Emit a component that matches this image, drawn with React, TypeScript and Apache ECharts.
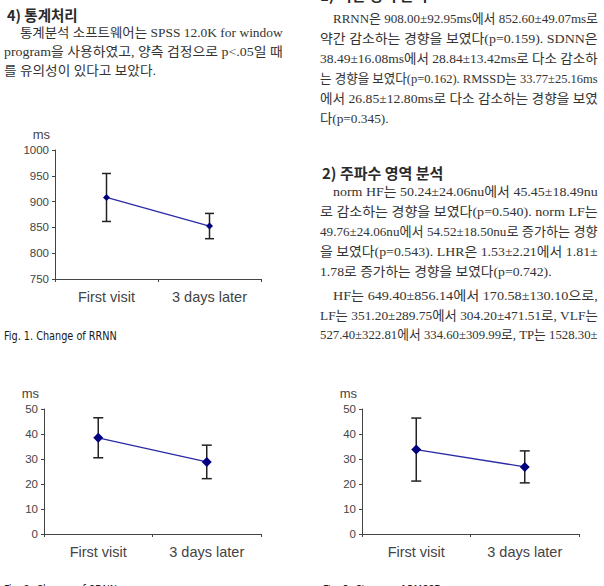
import React, { useEffect, useRef } from 'react';
import * as echarts from 'echarts';

// ---------- data ----------
const categories = ['First visit', '3 days later'];

const rrnnMean = [908.0, 852.6];
const rrnnErr = [46.5, 24.5];
const rrnnAxis = { min: 750, max: 1000, interval: 50 };

const sdnnMean = [38.49, 28.84];
const sdnnErr = [8.0, 6.7];
const sdnnAxis = { min: 0, max: 50, interval: 10 };

const rmssdMean = [33.77, 26.85];
const rmssdErr = [12.6, 6.4];
const rmssdAxis = { min: 0, max: 50, interval: 10 };

const yUnit = 'ms';
const captions = ['Fig. 1. Change of RRNN', 'Fig. 2. Change of SDNN', 'Fig. 3. Change of RMSSD'];

const leftHeading = '4) 통계처리';
const leftPara = [
  '통계분석 소프트웨어는 SPSS 12.0K for window',
  'program을 사용하였고, 양측 검정으로 p<.05일 때',
  '를 유의성이 있다고 보았다.',
];

const rightTopHeading = '1) 시간 영역 분석';
const rightPara1 = [
  'RRNN은 908.00±92.95ms에서 852.60±49.07ms로',
  '약간 감소하는 경향을 보였다(p=0.159). SDNN은',
  '38.49±16.08ms에서 28.84±13.42ms로 다소 감소하',
  '는 경향을 보였다(p=0.162). RMSSD는 33.77±25.16ms',
  '에서 26.85±12.80ms로 다소 감소하는 경향을 보였',
  '다(p=0.345).',
];
const rightHeading2 = '2) 주파수 영역 분석';
const rightPara2 = [
  'norm HF는 50.24±24.06nu에서 45.45±18.49nu',
  '로 감소하는 경향을 보였다(p=0.540). norm LF는',
  '49.76±24.06nu에서 54.52±18.50nu로 증가하는 경향',
  '을 보였다(p=0.543). LHR은 1.53±2.21에서 1.81±',
  '1.78로 증가하는 경향을 보였다(p=0.742).',
];
const rightPara3 = [
  'HF는 649.40±856.14에서 170.58±130.10으로,',
  'LF는 351.20±289.75에서 304.20±471.51로, VLF는',
  '527.40±322.81에서 334.60±309.99로, TP는 1528.30±',
];

// ---------- styles ----------
const BODY_FONT = "'Liberation Serif', 'Noto Sans CJK KR', serif";
const HEAD_FONT = "'Noto Sans CJK KR', 'Noto Sans', sans-serif";
const CHART_FONT = "'Liberation Sans', 'Noto Sans CJK KR', sans-serif";
const CAP_FONT = "'Liberation Sans Narrow', 'DejaVu Sans Condensed', 'Liberation Sans', sans-serif";

const grids = [
  { left: 55, top: 150, width: 206, height: 129 },
  { left: 44, top: 409, width: 217, height: 125 },
  { left: 362, top: 409, width: 217, height: 125 },
];

const chartSets = [
  { mean: rrnnMean, err: rrnnErr, axis: rrnnAxis, sym: 7, cap: 9 },
  { mean: sdnnMean, err: sdnnErr, axis: sdnnAxis, sym: 10, cap: 10 },
  { mean: rmssdMean, err: rmssdErr, axis: rmssdAxis, sym: 10, cap: 10 },
];

let measureCtx: CanvasRenderingContext2D | null = null;
function measure(text: string, fontStr: string) {
  if (!measureCtx) measureCtx = document.createElement('canvas').getContext('2d');
  if (!measureCtx) return text.length * 7;
  measureCtx.font = fontStr;
  return measureCtx.measureText(text).width;
}

function textEl(text: string, x: number, y: number, font: string, size: number, color: string, weight: any = 'normal', scaleX = 1) {
  return {
    type: 'text',
    x,
    y,
    scaleX,
    silent: true,
    style: {
      text,
      fill: color,
      font: `${weight} ${size}px ${font}`,
      textAlign: 'left',
      textVerticalAlign: 'middle',
    },
  };
}

// Justified paragraph: every line except (optionally) the last one spans to `right`.
function paragraph(
  lines: string[], firstX: number, restX: number, right: number,
  y0: number, step: number, lastIsEnd: boolean, out: any[],
) {
  const size = 13;
  const fontStr = `normal ${size}px ${BODY_FONT}`;
  const scales: number[] = [];
  lines.forEach((l, k) => {
    const x = k === 0 ? firstX : restX;
    const w = measure(l, fontStr);
    scales.push((right - x) / w);
  });
  const justified = lines.length > 1 && lastIsEnd ? scales.slice(0, -1) : scales;
  const avg = justified.reduce((a, b) => a + b, 0) / justified.length;
  lines.forEach((l, k) => {
    const x = k === 0 ? firstX : restX;
    const isLast = k === lines.length - 1 && lastIsEnd;
    const s = isLast ? Math.min(avg, scales[k]) : scales[k];
    out.push(textEl(l, x, y0 + k * step, BODY_FONT, size, '#333', 'normal', s));
  });
}

function caption(text: string, x: number, y: number, width: number, out: any[]) {
  const fontStr = `normal 12px ${CAP_FONT}`;
  const w = measure(text, fontStr);
  out.push(textEl(text, x, y, CAP_FONT, 12, '#1a1a1a', 'normal', width / w));
}

export default function App() {
  const ref = useRef<HTMLDivElement>(null);

  useEffect(() => {
    if (!ref.current) return;
    const chart = echarts.init(ref.current, undefined, { renderer: 'svg' });

    const xAxis: any[] = [];
    const yAxis: any[] = [];
    const series: any[] = [];

    chartSets.forEach((cs, i) => {
      xAxis.push({
        type: 'category',
        gridIndex: i,
        data: categories,
        boundaryGap: true,
        axisLine: { show: true, lineStyle: { color: '#444', width: 1 } },
        axisTick: { show: true, length: 3, lineStyle: { color: '#444' } },
        axisLabel: { color: '#444', fontSize: 14.5, margin: 11, fontFamily: CHART_FONT },
      });
      yAxis.push({
        type: 'value',
        gridIndex: i,
        min: cs.axis.min,
        max: cs.axis.max,
        interval: cs.axis.interval,
        name: yUnit,
        nameLocation: 'end',
        nameGap: 9,
        nameTextStyle: { color: '#444', fontSize: 13, fontFamily: CHART_FONT, align: 'right', padding: [0, 5, 0, 0] },
        axisLine: { show: true, lineStyle: { color: '#444', width: 1 } },
        axisTick: { show: true, length: 3, lineStyle: { color: '#444' } },
        splitLine: { show: false },
        axisLabel: {
          color: '#444', fontSize: 11.5, margin: 6, fontFamily: CHART_FONT,
          formatter: (v: number) => String(v),
        },
      });
      series.push({
        type: 'custom',
        xAxisIndex: i,
        yAxisIndex: i,
        z: 1,
        silent: true,
        data: categories.map((_, k) => [k, cs.mean[k] - cs.err[k], cs.mean[k] + cs.err[k]]),
        encode: { x: 0, y: [1, 2] },
        renderItem: (params: any, api: any) => {
          const xv = api.value(0);
          const lo = api.coord([xv, api.value(1)]);
          const hi = api.coord([xv, api.value(2)]);
          const hw = cs.cap / 2;
          const st = { stroke: '#222', lineWidth: 1.5 };
          return {
            type: 'group',
            children: [
              { type: 'line', shape: { x1: lo[0], y1: lo[1], x2: hi[0], y2: hi[1] }, style: st },
              { type: 'line', shape: { x1: lo[0] - hw, y1: lo[1], x2: lo[0] + hw, y2: lo[1] }, style: st },
              { type: 'line', shape: { x1: hi[0] - hw, y1: hi[1], x2: hi[0] + hw, y2: hi[1] }, style: st },
            ],
          };
        },
      });
      series.push({
        type: 'line',
        xAxisIndex: i,
        yAxisIndex: i,
        z: 3,
        data: cs.mean,
        symbol: 'diamond',
        symbolSize: cs.sym,
        showAllSymbol: true,
        lineStyle: { color: '#2a2aa6', width: 1.3 },
        itemStyle: { color: '#000080' },
      });
    });

    const graphic: any[] = [];
    // left column
    graphic.push(textEl(leftHeading, 7, 14, HEAD_FONT, 14.5, '#2a2a2a', 'bold'));
    paragraph(leftPara, 20, 4, 283, 33, 18.7, true, graphic);
    // right column
    graphic.push(textEl(rightTopHeading, 320, -6, HEAD_FONT, 15, '#2a2a2a', 'bold'));
    paragraph(rightPara1, 333, 320, 598, 18.5, 20.1, true, graphic);
    graphic.push(textEl(rightHeading2, 322, 172, HEAD_FONT, 15, '#2a2a2a', 'bold'));
    paragraph(rightPara2, 333, 320, 598, 192, 19.8, true, graphic);
    paragraph(rightPara3, 333, 320, 598, 296, 19.6, false, graphic);
    // captions
    caption(captions[0], 4, 336, 113, graphic);
    caption(captions[1], 4, 590, 113, graphic);
    caption(captions[2], 323, 590, 119, graphic);

    chart.setOption({
      animation: false,
      backgroundColor: '#ffffff',
      grid: grids.map((g) => ({ ...g, containLabel: false })),
      xAxis,
      yAxis,
      series,
      graphic,
    });

    return () => chart.dispose();
  }, []);

  return (
    <div
      ref={ref}
      style={{ position: 'fixed', left: 0, top: 0, width: 604, height: 586, background: '#fff' }}
    />
  );
}
